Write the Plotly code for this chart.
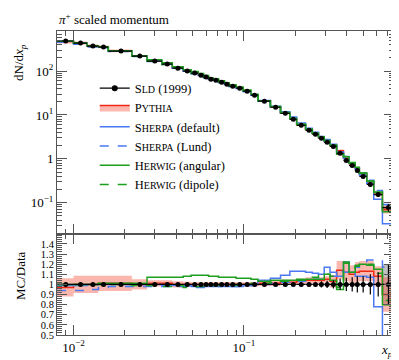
import math
import plotly.graph_objects as go

# ---------------- data ----------------
edges = [0.008, 0.010, 0.012, 0.014, 0.016, 0.022, 0.027, 0.033, 0.038, 0.044,
         0.049, 0.054, 0.058, 0.062, 0.066, 0.071, 0.077, 0.082, 0.090, 0.099,
         0.110, 0.121, 0.143, 0.164, 0.186, 0.204, 0.230, 0.252, 0.274, 0.296,
         0.320, 0.350, 0.384, 0.414, 0.450, 0.476, 0.526, 0.578, 0.650, 0.760]

sld = [486, 437, 373, 354, 287, 220, 169, 145, 117, 100,
       90, 81, 73, 65.6, 62.2, 56, 50.4, 45.4, 40.8, 34.8,
       28.2, 20.6, 15.0, 10.9, 7.97, 5.81, 4.47, 3.62, 2.93, 2.37,
       1.92, 1.33, 0.919, 0.706, 0.543, 0.396, 0.260, 0.153, 0.0772]

sld_relerr = [0.02, 0.015, 0.015, 0.015, 0.01, 0.01, 0.01, 0.01, 0.01, 0.01,
              0.01, 0.01, 0.01, 0.01, 0.01, 0.01, 0.01, 0.01, 0.01, 0.01,
              0.012, 0.012, 0.015, 0.015, 0.015, 0.02, 0.02, 0.025, 0.03, 0.035,
              0.04, 0.055, 0.065, 0.07, 0.08, 0.08, 0.10, 0.12, 0.20]

# MC / data ratios
pythia = [0.97, 1.00, 1.00, 1.01, 1.01, 1.00, 1.01, 1.01, 1.00, 1.00,
          1.00, 1.00, 1.00, 1.00, 1.00, 1.00, 1.00, 1.00, 1.00, 1.00,
          1.00, 1.01, 1.01, 1.02, 1.02, 1.03, 1.04, 1.04, 1.04, 1.05,
          1.03, 1.14, 1.12, 1.10, 1.12, 1.13, 1.13, 1.08, 0.90]
pythia_unc = [0.09, 0.085, 0.085, 0.075, 0.075, 0.05, 0.03, 0.03, 0.03, 0.025,
              0.02, 0.02, 0.02, 0.02, 0.02, 0.02, 0.02, 0.02, 0.02, 0.02,
              0.02, 0.025, 0.025, 0.025, 0.025, 0.025, 0.03, 0.03, 0.03, 0.03,
              0.06, 0.09, 0.09, 0.09, 0.10, 0.10, 0.10, 0.10, 0.17]
sherpa_default = [0.99, 0.99, 1.00, 1.00, 1.00, 1.00, 1.00, 0.99, 0.99, 0.99,
                  0.98, 0.98, 0.98, 0.98, 0.99, 0.98, 0.98, 0.98, 0.98, 0.99,
                  1.00, 1.04, 1.06, 1.09, 1.13, 1.13, 1.12, 1.11, 1.10, 1.17,
                  1.12, 1.08, 1.22, 1.12, 1.08, 1.08, 1.07, 0.78, 0.43]
sherpa_lund = [0.94, 0.94, 0.95, 0.97, 0.98, 0.98, 0.98, 0.98, 0.98, 0.98,
               0.97, 0.97, 0.97, 0.98, 0.98, 0.98, 0.98, 0.98, 0.98, 0.99,
               0.99, 1.00, 1.01, 1.02, 1.03, 1.03, 1.04, 1.05, 1.05, 1.06,
               1.08, 1.13, 1.12, 1.15, 1.17, 1.20, 1.24, 1.24, 1.17]
herwig_angular = [1.00, 1.00, 1.00, 1.01, 1.01, 1.01, 1.07, 1.07, 1.07, 1.08,
                  1.09, 1.09, 1.09, 1.08, 1.08, 1.07, 1.07, 1.07, 1.06, 1.06,
                  1.05, 1.03, 1.04, 1.04, 1.04, 1.04, 1.05, 1.05, 1.05, 1.10,
                  1.04, 0.95, 1.21, 1.12, 1.18, 1.20, 1.19, 1.15, 0.80]
herwig_dipole = [1.00, 1.00, 1.00, 1.00, 1.00, 0.99, 0.99, 0.98, 0.99, 0.97,
                 0.98, 0.98, 0.98, 0.99, 0.99, 0.99, 0.99, 0.99, 1.00, 1.00,
                 1.01, 1.01, 1.02, 1.03, 1.04, 1.05, 1.06, 1.07, 1.09, 1.10,
                 1.08, 0.97, 1.22, 1.16, 1.19, 1.20, 1.20, 1.11, 0.84]

y_main_ticks = [0.1, 1, 10, 100]
y_main_labels = ["10<sup>\u22121</sup>", "1", "10<sup>1</sup>", "10<sup>2</sup>"]
y_ratio_ticks = [0.5, 0.6, 0.7, 0.8, 0.9, 1.0, 1.1, 1.2, 1.3, 1.4]
y_ratio_labels = ["0.5", "0.6", "0.7", "0.8", "0.9", "1", "1.1", "1.2", "1.3", "1.4"]
x_ticks = [0.01, 0.1]
x_labels = ["10<sup>\u22122</sup>", "10<sup>\u22121</sup>"]

# ---------------- styling ----------------
RED = "#ee2a14"
PINK = "rgba(245,80,60,0.42)"
BLUE = "#4a78f2"
GREEN = "#1e9e1e"
GRAY_BAND = "rgba(140,140,140,0.55)"
FONT = "Liberation Serif"
AX = "#555555"

centers = [(a + b) / 2 for a, b in zip(edges[:-1], edges[1:])]
xm = [c - a for c, a in zip(centers, edges[:-1])]
xp = [b - c for c, b in zip(centers, edges[1:])]


def step_y(vals):
    return list(vals) + [vals[-1]]


fig = go.Figure()


def sc(first, rest, tail=""):
    return f"{first}<span style='font-size:10px'>{rest}</span>{tail}"


# ----- legend-only entries -----
fig.add_trace(go.Scatter(x=[None], y=[None], mode="lines+markers", name=sc("S", "LD", " (1999)"),
                         line=dict(color="black", width=1.2), marker=dict(color="black", size=6)))
fig.add_trace(go.Scatter(x=[None], y=[None], mode="lines", name=sc("P", "YTHIA"), fill="toself",
                         fillcolor=PINK, line=dict(color=RED, width=1.6)))
fig.add_trace(go.Scatter(x=[None], y=[None], mode="lines", name=sc("S", "HERPA", " (default)"),
                         line=dict(color=BLUE, width=1.6)))
fig.add_trace(go.Scatter(x=[None], y=[None], mode="lines", name=sc("S", "HERPA", " (Lund)"),
                         line=dict(color=BLUE, width=1.6, dash="dash")))
fig.add_trace(go.Scatter(x=[None], y=[None], mode="lines", name=sc("H", "ERWIG", " (angular)"),
                         line=dict(color=GREEN, width=1.6)))
fig.add_trace(go.Scatter(x=[None], y=[None], mode="lines", name=sc("H", "ERWIG", " (dipole)"),
                         line=dict(color=GREEN, width=1.6, dash="dash")))

# ----- panels -----
for panel in ("main", "ratio"):
    xa, ya = ("x", "y") if panel == "main" else ("x2", "y2")
    scale = sld if panel == "main" else [1.0] * len(sld)

    # last-bin data uncertainty box
    lo_b = scale[-1] * (1 - sld_relerr[-1])
    hi_b = scale[-1] * (1 + sld_relerr[-1])
    fig.add_trace(go.Scatter(x=[edges[-2], edges[-1], edges[-1], edges[-2], edges[-2]],
                             y=[lo_b, lo_b, hi_b, hi_b, lo_b], fill="toself", mode="none",
                             fillcolor=GRAY_BAND, showlegend=False, xaxis=xa, yaxis=ya,
                             hoverinfo="skip"))

    # Pythia band
    lo = [s * (p - u) for s, p, u in zip(scale, pythia, pythia_unc)]
    hi = [s * (p + u) for s, p, u in zip(scale, pythia, pythia_unc)]
    fig.add_trace(go.Scatter(x=edges, y=step_y(lo), mode="lines", line=dict(width=0, shape="hv"),
                             showlegend=False, xaxis=xa, yaxis=ya, hoverinfo="skip"))
    fig.add_trace(go.Scatter(x=edges, y=step_y(hi), mode="lines", line=dict(width=0, shape="hv"),
                             fill="tonexty", fillcolor=PINK, showlegend=False, xaxis=xa, yaxis=ya,
                             hoverinfo="skip"))

    for vals, color, dash in ((pythia, RED, "solid"),
                              (sherpa_default, BLUE, "solid"),
                              (sherpa_lund, BLUE, "dash"),
                              (herwig_angular, GREEN, "solid"),
                              (herwig_dipole, GREEN, "dash")):
        yv = [s * v for s, v in zip(scale, vals)]
        fig.add_trace(go.Scatter(x=edges, y=step_y(yv), mode="lines",
                                 line=dict(color=color, width=1.5, shape="hv", dash=dash),
                                 showlegend=False, xaxis=xa, yaxis=ya))

    # data points
    fig.add_trace(go.Scatter(x=centers, y=scale, mode="markers",
                             marker=dict(color="black", size=5),
                             error_x=dict(type="data", symmetric=False, array=xp, arrayminus=xm,
                                          color="black", thickness=1.2, width=0),
                             error_y=dict(type="data", array=[s * e for s, e in zip(scale, sld_relerr)],
                                          color="black", thickness=1.2, width=0),
                             showlegend=False, xaxis=xa, yaxis=ya))

# ----- axes -----
xr = [math.log10(edges[0]), math.log10(edges[-1])]
x_minor = [m * 10 ** k for k in (-3, -2, -1) for m in range(2, 10)
           if edges[0] <= m * 10 ** k <= edges[-1]]
ym_minor = [m * 10 ** k for k in (-2, -1, 0, 1, 2) for m in range(2, 10)]
yr_minor = [round(0.5 + 0.02 * i, 2) for i in range(51)]

common_x = dict(type="log", range=xr, ticks="inside", ticklen=10, tickcolor=AX, tickwidth=1,
                showline=True, linecolor=AX, linewidth=1, mirror="ticks", showgrid=False,
                zeroline=False, tickmode="array", tickvals=x_ticks,
                minor=dict(tickvals=x_minor, ticks="inside", ticklen=5, tickcolor=AX, showgrid=False))

fig.update_layout(
    width=399, height=360,
    margin=dict(l=49, r=13, t=23, b=33),
    paper_bgcolor="white", plot_bgcolor="white",
    font=dict(family=FONT, size=13, color="black"),
    xaxis=dict(**common_x, anchor="y", domain=[0, 1], showticklabels=False),
    xaxis2=dict(**common_x, anchor="y2", domain=[0, 1], matches="x", ticktext=x_labels,
                showticklabels=True, tickfont=dict(size=13, family=FONT)),
    yaxis=dict(type="log", domain=[0.333, 1], range=[-1.71, 2.915], anchor="x",
               ticks="inside", ticklen=10, tickcolor=AX, showline=True, linecolor=AX, mirror="ticks",
               showgrid=False, zeroline=False, tickmode="array", tickvals=y_main_ticks,
               ticktext=y_main_labels, tickfont=dict(size=13, family=FONT),
               minor=dict(tickvals=ym_minor, ticks="inside", ticklen=5, tickcolor=AX, showgrid=False)),
    yaxis2=dict(domain=[0, 0.333], range=[0.5, 1.5], anchor="x2",
                ticks="inside", ticklen=10, tickcolor=AX, showline=True, linecolor=AX, mirror="ticks",
                showgrid=False, zeroline=False, tickmode="array", tickvals=y_ratio_ticks,
                ticktext=y_ratio_labels, tickfont=dict(size=10.5, family=FONT),
                minor=dict(tickvals=yr_minor, ticks="inside", ticklen=5, tickcolor=AX, showgrid=False)),
    legend=dict(x=0.112, y=0.86, xanchor="left", yanchor="top", bgcolor="rgba(0,0,0,0)",
                font=dict(family=FONT, size=12.5), tracegroupgap=0, itemwidth=30,
                traceorder="normal"),
    showlegend=True,
)

fig.add_annotation(text="<i>\u03c0</i><sup>+</sup> scaled momentum", xref="paper", yref="paper",
                   x=0, y=1, xanchor="left", yanchor="bottom", yshift=2, showarrow=False,
                   font=dict(family=FONT, size=13))
fig.add_annotation(text="dN/d<i>x</i><sub><i>p</i></sub>", xref="paper", yref="paper",
                   x=0, y=0.895, xanchor="center", yanchor="middle", xshift=-37, textangle=-90,
                   showarrow=False, font=dict(family=FONT, size=13))
fig.add_annotation(text="MC/Data", xref="paper", yref="paper",
                   x=0, y=0.194, xanchor="center", yanchor="middle", xshift=-37, textangle=-90,
                   showarrow=False, font=dict(family=FONT, size=13))
fig.add_annotation(text="<i>x</i><sub><i>p</i></sub>", xref="paper", yref="paper",
                   x=0.98, y=-0.05, xanchor="center", yanchor="middle", showarrow=False,
                   font=dict(family=FONT, size=13))

fig.write_html("out.html")
